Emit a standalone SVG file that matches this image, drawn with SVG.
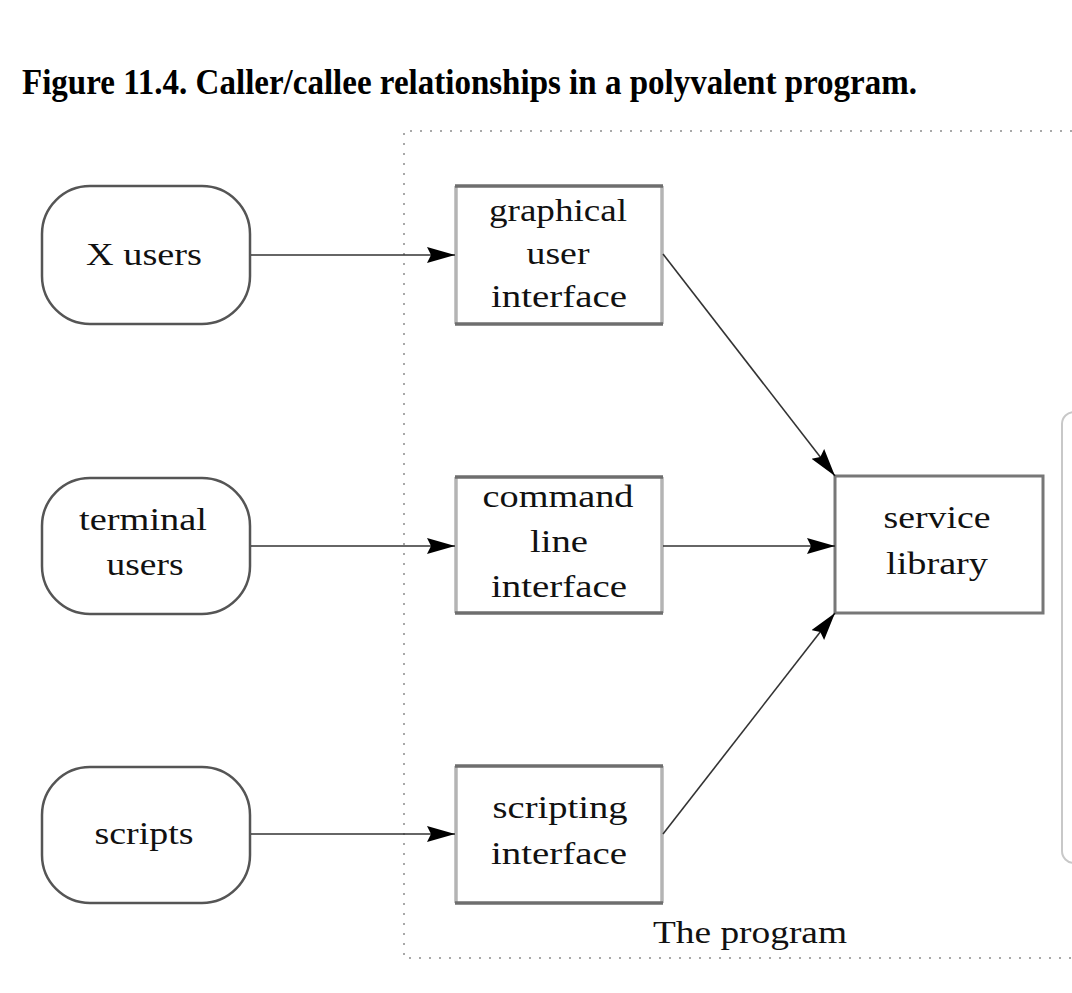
<svg xmlns="http://www.w3.org/2000/svg" width="1072" height="993" viewBox="0 0 1072 993">
<style>
.t{font-family:"Liberation Serif","Times New Roman",serif;font-size:32px;fill:#111;text-anchor:middle}
.title{font-family:"Liberation Serif","Times New Roman",serif;font-size:35px;font-weight:bold;fill:#000}
.round{fill:#fff;stroke:#555;stroke-width:2.5}
.lr{stroke:#b4b4b4;stroke-width:3.5}
.tb{stroke:#6e6e6e;stroke-width:3.5}
.svc{fill:#fff;stroke:#777;stroke-width:3}
.conn line{stroke:#333;stroke-width:1.6}
.dot{fill:none;stroke:#a8a8a8;stroke-width:2;stroke-dasharray:2 8}
</style>
<defs>
<marker id="ah" markerUnits="userSpaceOnUse" markerWidth="30" markerHeight="18" refX="28" refY="8" orient="auto">
<path d="M0,0 L28,8 L0,16 L4,8 z" fill="#000"/>
</marker>
</defs>
<rect width="1072" height="993" fill="#fff"/>
<text class="title" x="22" y="94" textLength="895" lengthAdjust="spacingAndGlyphs">Figure 11.4. Caller/callee relationships in a polyvalent program.</text>

<g id="program-boundary">
<path class="dot" d="M1072,131 H404 V958 H1072"/>
<text class="t" x="750" y="943" textLength="194" lengthAdjust="spacingAndGlyphs">The program</text>
</g>

<g id="side-panel">
<rect x="1062" y="412" width="40" height="451" rx="12" fill="none" stroke="#c8c8c8" stroke-width="2"/>
</g>

<g id="x-users">
<rect class="round" x="42" y="186" width="208" height="138" rx="48"/>
<text class="t" x="144" y="265" textLength="116" lengthAdjust="spacingAndGlyphs">X users</text>
</g>
<g id="terminal-users">
<rect class="round" x="42" y="478" width="208" height="136" rx="48"/>
<text class="t" x="143" y="530" textLength="128" lengthAdjust="spacingAndGlyphs">terminal</text>
<text class="t" x="145" y="575" textLength="77" lengthAdjust="spacingAndGlyphs">users</text>
</g>
<g id="scripts">
<rect class="round" x="42" y="767" width="208" height="136" rx="48"/>
<text class="t" x="144" y="844" textLength="99" lengthAdjust="spacingAndGlyphs">scripts</text>
</g>

<g id="gui">
<rect x="455" y="186" width="208" height="138" fill="#fff"/>
<line class="lr" x1="456" y1="186" x2="456" y2="324"/>
<line class="lr" x1="662" y1="186" x2="662" y2="324"/>
<line class="tb" x1="455" y1="186" x2="663" y2="186"/>
<line class="tb" x1="455" y1="324" x2="663" y2="324"/>
<text class="t" x="558" y="221" textLength="138" lengthAdjust="spacingAndGlyphs">graphical</text>
<text class="t" x="558" y="264" textLength="63" lengthAdjust="spacingAndGlyphs">user</text>
<text class="t" x="559" y="307" textLength="136" lengthAdjust="spacingAndGlyphs">interface</text>
</g>
<g id="cli">
<rect x="455" y="477" width="208" height="136" fill="#fff"/>
<line class="lr" x1="456" y1="477" x2="456" y2="613"/>
<line class="lr" x1="662" y1="477" x2="662" y2="613"/>
<line class="tb" x1="455" y1="477" x2="663" y2="477"/>
<line class="tb" x1="455" y1="613" x2="663" y2="613"/>
<text class="t" x="558" y="507" textLength="151" lengthAdjust="spacingAndGlyphs">command</text>
<text class="t" x="559" y="552" textLength="58" lengthAdjust="spacingAndGlyphs">line</text>
<text class="t" x="559" y="597" textLength="136" lengthAdjust="spacingAndGlyphs">interface</text>
</g>
<g id="scripting-interface">
<rect x="455" y="766" width="208" height="137" fill="#fff"/>
<line class="lr" x1="456" y1="766" x2="456" y2="903"/>
<line class="lr" x1="662" y1="766" x2="662" y2="903"/>
<line class="tb" x1="455" y1="766" x2="663" y2="766"/>
<line class="tb" x1="455" y1="903" x2="663" y2="903"/>
<text class="t" x="560" y="818" textLength="135" lengthAdjust="spacingAndGlyphs">scripting</text>
<text class="t" x="559" y="864" textLength="136" lengthAdjust="spacingAndGlyphs">interface</text>
</g>
<g id="service-library">
<rect class="svc" x="835" y="476" width="208" height="137"/>
<text class="t" x="937" y="528" textLength="107" lengthAdjust="spacingAndGlyphs">service</text>
<text class="t" x="937" y="574" textLength="102" lengthAdjust="spacingAndGlyphs">library</text>
</g>

<g id="connectors" class="conn">
<line x1="251" y1="255" x2="455" y2="255" marker-end="url(#ah)"/>
<line x1="251" y1="546" x2="455" y2="546" marker-end="url(#ah)"/>
<line x1="251" y1="834" x2="455" y2="834" marker-end="url(#ah)"/>
<line x1="663" y1="254" x2="835" y2="476" marker-end="url(#ah)"/>
<line x1="663" y1="546" x2="835" y2="546" marker-end="url(#ah)"/>
<line x1="663" y1="834" x2="835" y2="613" marker-end="url(#ah)"/>
</g>
</svg>
